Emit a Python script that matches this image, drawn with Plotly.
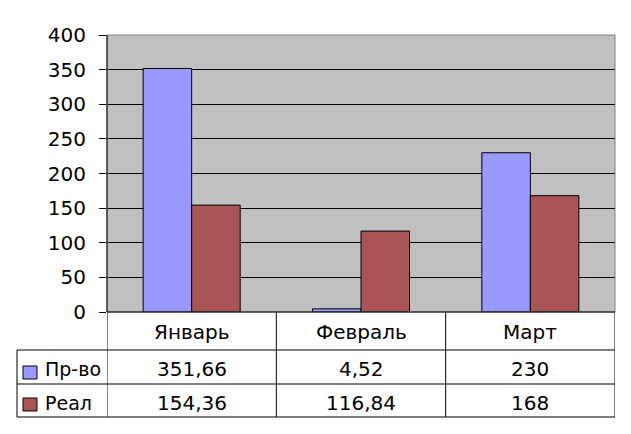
import plotly.graph_objects as go

categories = ["Январь", "Февраль", "Март"]
series_names = ["Пр-во", "Реал"]
prod_values = [351.66, 4.52, 230]
real_values = [154.36, 116.84, 168]
prod_labels = ["351,66", "4,52", "230"]
real_labels = ["154,36", "116,84", "168"]
y_ticks = [0, 50, 100, 150, 200, 250, 300, 350, 400]

colors = ["#9999FF", "#A95555"]
FONT = "DejaVu Sans"
FS = 20

# page offset caused by the default 8px body margin
OFF = 8
W, H = 631 - OFF, 434 - OFF
# plot area in page pixels: x 107..615, y 35..312
L, R, T, B = 107 - OFF, 631 - 615, 35 - OFF, 434 - 312
PW = W - L - R
PH = H - T - B


def py(ypage):
    """page y pixel -> paper y"""
    return (312 - ypage) / PH


def px(xpage):
    """page x pixel -> paper x"""
    return (xpage - 107) / PW


fig = go.Figure()
for name, vals, col in zip(series_names, [prod_values, real_values], colors):
    fig.add_trace(go.Bar(
        x=categories, y=vals, name=name,
        marker=dict(color=col, line=dict(color="black", width=1)),
        showlegend=False,
    ))

shapes = []
annotations = []

shapes.append(dict(type="rect", xref="paper", yref="paper", x0=0, x1=1, y0=0, y1=1,
                   line=dict(color="#808080", width=1), layer="above"))
shapes.append(dict(type="line", xref="paper", yref="paper", x0=0, x1=0, y0=0, y1=1,
                   line=dict(color="black", width=1), layer="above"))
shapes.append(dict(type="line", xref="paper", yref="paper", x0=0, x1=1, y0=0, y1=0,
                   line=dict(color="black", width=1), layer="above"))

y_head = py(350)
y_r1 = py(384)
y_r2 = py(417)
x_left = px(17)

for yy in [y_head, y_r1, y_r2]:
    shapes.append(dict(type="line", xref="paper", yref="paper", x0=x_left, x1=1, y0=yy, y1=yy,
                       line=dict(color="black", width=1)))
shapes.append(dict(type="line", xref="paper", yref="paper", x0=x_left, x1=x_left, y0=y_head, y1=y_r2,
                   line=dict(color="black", width=1)))
for i in range(len(categories) + 1):
    shapes.append(dict(type="line", xref="x", yref="paper", x0=i - 0.5, x1=i - 0.5, y0=0, y1=y_r2,
                       line=dict(color="black", width=1)))

y_head_c = py(332)
y_r1_c = py(369)
y_r2_c = py(402.5)
for i, c in enumerate(categories):
    annotations.append(dict(x=i, y=y_head_c, xref="x", yref="paper", text=c, showarrow=False,
                            font=dict(family=FONT, size=FS, color="black"), yanchor="middle"))
for i, (a, b) in enumerate(zip(prod_labels, real_labels)):
    annotations.append(dict(x=i, y=y_r1_c, xref="x", yref="paper", text=a, showarrow=False,
                            font=dict(family=FONT, size=FS, color="black"), yanchor="middle"))
    annotations.append(dict(x=i, y=y_r2_c, xref="x", yref="paper", text=b, showarrow=False,
                            font=dict(family=FONT, size=FS, color="black"), yanchor="middle"))

for name, col, ypage in zip(series_names, colors, [372.5, 404.5]):
    shapes.append(dict(type="rect", xref="paper", yref="paper",
                       x0=px(23), x1=px(37),
                       y0=py(ypage + 6.5), y1=py(ypage - 6.5),
                       fillcolor=col, line=dict(color="black", width=1)))
for name, yc in zip(series_names, [y_r1_c, y_r2_c]):
    annotations.append(dict(x=px(43), y=yc, xref="paper", yref="paper", text=name,
                            showarrow=False, xanchor="left", yanchor="middle",
                            font=dict(family=FONT, size=19, color="black")))

fig.update_layout(
    width=W, height=H,
    margin=dict(l=L, r=R, t=T, b=B, pad=0),
    paper_bgcolor="white", plot_bgcolor="#C0C0C0",
    barmode="group", bargap=0.427, bargroupgap=0,
    font=dict(family=FONT, size=FS, color="black"),
    shapes=shapes, annotations=annotations,
    xaxis=dict(showticklabels=False, ticks="", showgrid=False, zeroline=False,
               range=[-0.5, 2.5], showline=False, fixedrange=True),
    yaxis=dict(range=[0, 400], tickvals=y_ticks, showgrid=True, gridcolor="black", gridwidth=1,
               zeroline=False, ticks="outside", ticklen=7, tickcolor="black", tickwidth=1,
               ticklabelstandoff=9, showline=False,
               tickfont=dict(family=FONT, size=FS, color="black"), fixedrange=True),
)

fig.write_html("out.html", config={"displayModeBar": False})
